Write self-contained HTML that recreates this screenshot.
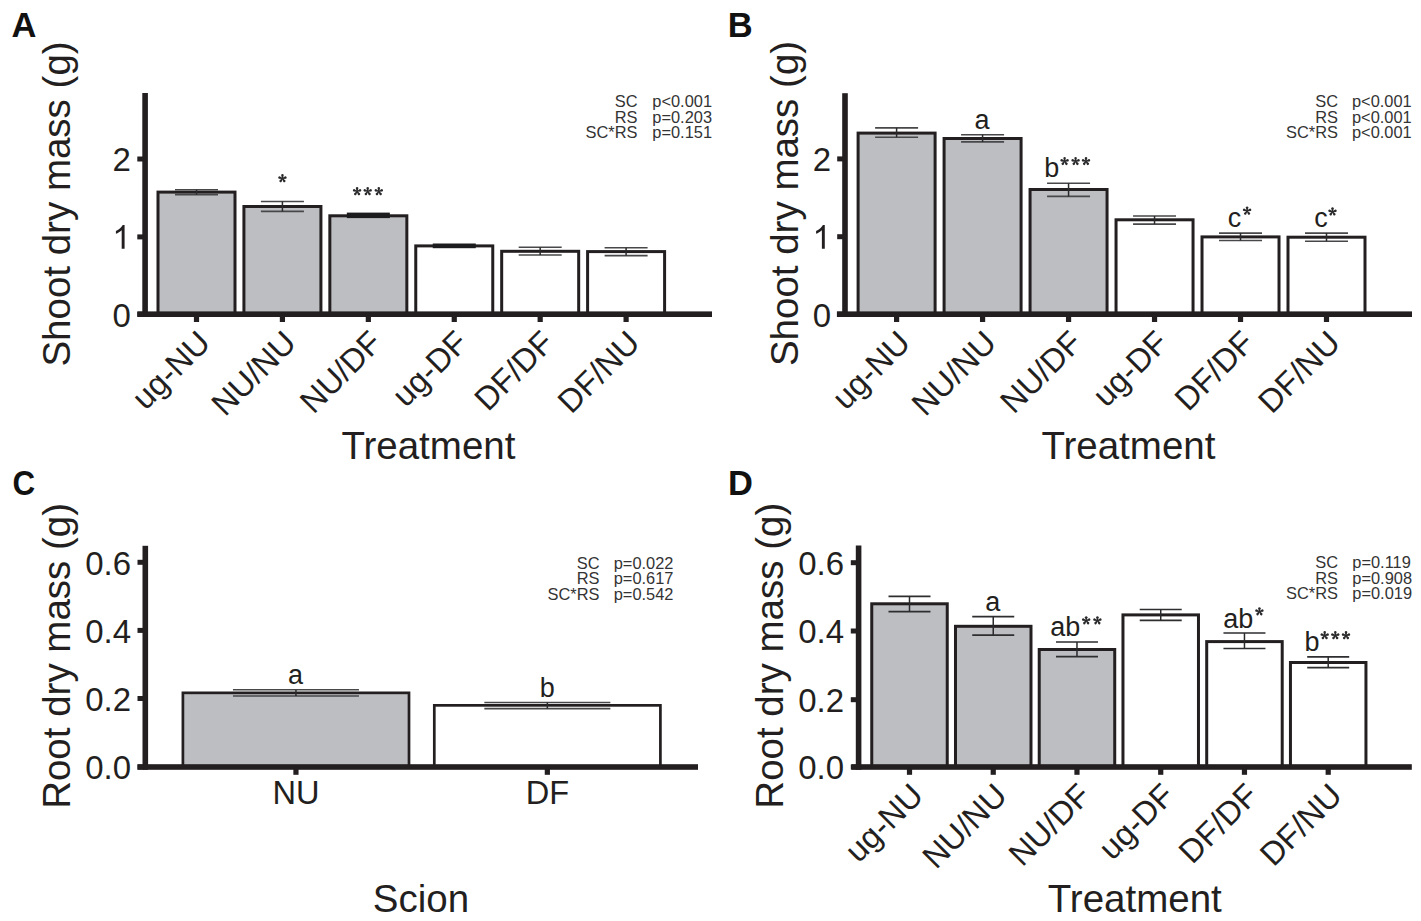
<!DOCTYPE html>
<html><head><meta charset="utf-8"><style>
html,body{margin:0;padding:0;background:#fff;width:1421px;height:921px;overflow:hidden}
svg{display:block}
text{font-family:"Liberation Sans", sans-serif}
</style></head><body>
<svg width="1421" height="921" viewBox="0 0 1421 921">
<defs><g id="ast" fill="#2a2a2c"><path id="arm" d="M-0.45 0L-1.3 -3.4A1.35 1.35 0 0 1 1.3 -3.4L0.45 0Z"/><use href="#arm" transform="rotate(72)"/><use href="#arm" transform="rotate(144)"/><use href="#arm" transform="rotate(216)"/><use href="#arm" transform="rotate(288)"/><circle r="0.9"/></g></defs>
<rect width="1421" height="921" fill="#fff"/>
<text transform="translate(11.5,36.8) scale(1,1)" x="0" y="0" font-size="34.5" font-weight="bold" fill="#111">A</text>
<rect x="158.00" y="192.10" width="77.00" height="122.10" fill="#bdbec1" stroke="#231f20" stroke-width="3.0"/>
<rect x="243.92" y="206.50" width="77.00" height="107.70" fill="#bdbec1" stroke="#231f20" stroke-width="3.0"/>
<rect x="329.84" y="215.80" width="77.00" height="98.40" fill="#bdbec1" stroke="#231f20" stroke-width="3.0"/>
<rect x="415.76" y="245.90" width="77.00" height="68.30" fill="#fff" stroke="#231f20" stroke-width="3.0"/>
<rect x="501.68" y="251.30" width="77.00" height="62.90" fill="#fff" stroke="#231f20" stroke-width="3.0"/>
<rect x="587.60" y="251.60" width="77.00" height="62.60" fill="#fff" stroke="#231f20" stroke-width="3.0"/>
<path d="M175.00 189.80H218.00M175.00 194.60H218.00" stroke="#48484a" stroke-width="1.6" fill="none"/>
<path d="M196.50 189.80V194.60" stroke="#2a2a2c" stroke-width="1.5" fill="none"/>
<path d="M260.92 201.50H303.92M260.92 211.40H303.92" stroke="#48484a" stroke-width="1.6" fill="none"/>
<path d="M282.42 201.50V211.40" stroke="#2a2a2c" stroke-width="1.5" fill="none"/>
<rect x="346.84" y="212.60" width="43.00" height="5.5" fill="#1c1c1e"/>
<rect x="432.76" y="243.50" width="43.00" height="4.7" fill="#1c1c1e"/>
<path d="M518.68 247.20H561.68M518.68 255.00H561.68" stroke="#48484a" stroke-width="1.6" fill="none"/>
<path d="M540.18 247.20V255.00" stroke="#2a2a2c" stroke-width="1.5" fill="none"/>
<path d="M604.60 247.70H647.60M604.60 255.60H647.60" stroke="#48484a" stroke-width="1.6" fill="none"/>
<path d="M626.10 247.70V255.60" stroke="#2a2a2c" stroke-width="1.5" fill="none"/>
<rect x="142.30" y="93.00" width="5.6" height="224.00" fill="#231f20"/>
<rect x="137.40" y="311.40" width="574.60" height="5.6" fill="#231f20"/>
<rect x="137.30" y="156.50" width="6" height="5" fill="#231f20"/>
<text x="130.8" y="171.30" font-size="33" text-anchor="end" fill="#231f20">2</text>
<rect x="137.30" y="234.40" width="6" height="5" fill="#231f20"/>
<path transform="translate(112.29,248.70) scale(0.016113,-0.016113)" d="M763 0H583V1147Q518 1085 413 1023Q308 961 224 930V1104Q375 1175 488 1276Q601 1377 648 1472H763Z" fill="#231f20"/>
<rect x="137.30" y="311.70" width="6" height="5" fill="#231f20"/>
<text x="130.8" y="326.50" font-size="33" text-anchor="end" fill="#231f20">0</text>
<rect x="193.90" y="314.20" width="5.2" height="7.80" fill="#231f20"/>
<rect x="279.82" y="314.20" width="5.2" height="7.80" fill="#231f20"/>
<rect x="365.74" y="314.20" width="5.2" height="7.80" fill="#231f20"/>
<rect x="451.66" y="314.20" width="5.2" height="7.80" fill="#231f20"/>
<rect x="537.58" y="314.20" width="5.2" height="7.80" fill="#231f20"/>
<rect x="623.50" y="314.20" width="5.2" height="7.80" fill="#231f20"/>
<use href="#ast" x="282.45" y="178.50"/>
<use href="#ast" x="357.10" y="191.40"/>
<use href="#ast" x="367.70" y="191.40"/>
<use href="#ast" x="378.80" y="191.40"/>
<text transform="translate(212.10,344.60) rotate(-45)" x="0" y="0" font-size="32.6" text-anchor="end" fill="#231f20">ug-NU</text>
<text transform="translate(298.02,344.60) rotate(-45)" x="0" y="0" font-size="32.6" text-anchor="end" fill="#231f20">NU/NU</text>
<text transform="translate(383.94,344.60) rotate(-45)" x="0" y="0" font-size="32.6" text-anchor="end" fill="#231f20">NU/DF</text>
<text transform="translate(469.86,344.60) rotate(-45)" x="0" y="0" font-size="32.6" text-anchor="end" fill="#231f20">ug-DF</text>
<text transform="translate(555.78,344.60) rotate(-45)" x="0" y="0" font-size="32.6" text-anchor="end" fill="#231f20">DF/DF</text>
<text transform="translate(641.70,344.60) rotate(-45)" x="0" y="0" font-size="32.6" text-anchor="end" fill="#231f20">DF/NU</text>
<text x="428.40" y="458.80" font-size="38.5" text-anchor="middle" fill="#231f20">Treatment</text>
<text transform="translate(69.50,204.00) rotate(-90)" x="0" y="0" font-size="38.5" text-anchor="middle" fill="#231f20">Shoot dry mass (g)</text>
<text x="637.50" y="107.10" font-size="16.4" text-anchor="end" fill="#333">SC</text>
<text x="652.30" y="107.10" font-size="16.4" fill="#333">p&lt;0.001</text>
<text x="637.50" y="122.60" font-size="16.4" text-anchor="end" fill="#333">RS</text>
<text x="652.30" y="122.60" font-size="16.4" fill="#333">p=0.203</text>
<text x="637.50" y="138.20" font-size="16.4" text-anchor="end" fill="#333">SC*RS</text>
<text x="652.30" y="138.20" font-size="16.4" fill="#333">p=0.151</text>
<text transform="translate(727.8,36.8) scale(1,1)" x="0" y="0" font-size="34.5" font-weight="bold" fill="#111">B</text>
<rect x="858.10" y="133.10" width="77.00" height="181.10" fill="#bdbec1" stroke="#231f20" stroke-width="3.0"/>
<rect x="944.08" y="138.50" width="77.00" height="175.70" fill="#bdbec1" stroke="#231f20" stroke-width="3.0"/>
<rect x="1030.06" y="189.50" width="77.00" height="124.70" fill="#bdbec1" stroke="#231f20" stroke-width="3.0"/>
<rect x="1116.04" y="219.80" width="77.00" height="94.40" fill="#fff" stroke="#231f20" stroke-width="3.0"/>
<rect x="1202.02" y="236.90" width="77.00" height="77.30" fill="#fff" stroke="#231f20" stroke-width="3.0"/>
<rect x="1288.00" y="237.20" width="77.00" height="77.00" fill="#fff" stroke="#231f20" stroke-width="3.0"/>
<path d="M875.10 127.90H918.10M875.10 137.20H918.10" stroke="#48484a" stroke-width="1.6" fill="none"/>
<path d="M896.60 127.90V137.20" stroke="#2a2a2c" stroke-width="1.5" fill="none"/>
<path d="M961.08 134.70H1004.08M961.08 141.90H1004.08" stroke="#48484a" stroke-width="1.6" fill="none"/>
<path d="M982.58 134.70V141.90" stroke="#2a2a2c" stroke-width="1.5" fill="none"/>
<path d="M1047.06 183.30H1090.06M1047.06 196.40H1090.06" stroke="#48484a" stroke-width="1.6" fill="none"/>
<path d="M1068.56 183.30V196.40" stroke="#2a2a2c" stroke-width="1.5" fill="none"/>
<path d="M1133.04 216.00H1176.04M1133.04 224.10H1176.04" stroke="#48484a" stroke-width="1.6" fill="none"/>
<path d="M1154.54 216.00V224.10" stroke="#2a2a2c" stroke-width="1.5" fill="none"/>
<path d="M1219.02 233.10H1262.02M1219.02 240.50H1262.02" stroke="#48484a" stroke-width="1.6" fill="none"/>
<path d="M1240.52 233.10V240.50" stroke="#2a2a2c" stroke-width="1.5" fill="none"/>
<path d="M1305.00 233.10H1348.00M1305.00 241.20H1348.00" stroke="#48484a" stroke-width="1.6" fill="none"/>
<path d="M1326.50 233.10V241.20" stroke="#2a2a2c" stroke-width="1.5" fill="none"/>
<rect x="842.20" y="93.20" width="5.6" height="223.80" fill="#231f20"/>
<rect x="836.90" y="311.40" width="575.10" height="5.6" fill="#231f20"/>
<rect x="837.20" y="156.40" width="6" height="5" fill="#231f20"/>
<text x="831.2" y="171.20" font-size="33" text-anchor="end" fill="#231f20">2</text>
<rect x="837.20" y="234.20" width="6" height="5" fill="#231f20"/>
<path transform="translate(812.49,248.70) scale(0.016113,-0.016113)" d="M763 0H583V1147Q518 1085 413 1023Q308 961 224 930V1104Q375 1175 488 1276Q601 1377 648 1472H763Z" fill="#231f20"/>
<rect x="837.20" y="311.70" width="6" height="5" fill="#231f20"/>
<text x="831.2" y="326.50" font-size="33" text-anchor="end" fill="#231f20">0</text>
<rect x="894.00" y="314.20" width="5.2" height="7.80" fill="#231f20"/>
<rect x="979.98" y="314.20" width="5.2" height="7.80" fill="#231f20"/>
<rect x="1065.96" y="314.20" width="5.2" height="7.80" fill="#231f20"/>
<rect x="1151.94" y="314.20" width="5.2" height="7.80" fill="#231f20"/>
<rect x="1237.92" y="314.20" width="5.2" height="7.80" fill="#231f20"/>
<rect x="1323.90" y="314.20" width="5.2" height="7.80" fill="#231f20"/>
<text x="982.10" y="128.80" font-size="27" text-anchor="middle" fill="#231f20">a</text>
<text x="1044.15" y="176.90" font-size="27" fill="#231f20">b</text>
<use href="#ast" x="1064.60" y="161.30"/>
<use href="#ast" x="1075.60" y="161.30"/>
<use href="#ast" x="1086.00" y="161.30"/>
<text x="1234.55" y="226.50" font-size="27" text-anchor="middle" fill="#231f20">c</text>
<use href="#ast" x="1247.10" y="210.90"/>
<text x="1320.95" y="227.30" font-size="27" text-anchor="middle" fill="#231f20">c</text>
<use href="#ast" x="1332.50" y="211.70"/>
<text transform="translate(912.20,344.60) rotate(-45)" x="0" y="0" font-size="32.6" text-anchor="end" fill="#231f20">ug-NU</text>
<text transform="translate(998.18,344.60) rotate(-45)" x="0" y="0" font-size="32.6" text-anchor="end" fill="#231f20">NU/NU</text>
<text transform="translate(1084.16,344.60) rotate(-45)" x="0" y="0" font-size="32.6" text-anchor="end" fill="#231f20">NU/DF</text>
<text transform="translate(1170.14,344.60) rotate(-45)" x="0" y="0" font-size="32.6" text-anchor="end" fill="#231f20">ug-DF</text>
<text transform="translate(1256.12,344.60) rotate(-45)" x="0" y="0" font-size="32.6" text-anchor="end" fill="#231f20">DF/DF</text>
<text transform="translate(1342.10,344.60) rotate(-45)" x="0" y="0" font-size="32.6" text-anchor="end" fill="#231f20">DF/NU</text>
<text x="1128.40" y="458.50" font-size="38.5" text-anchor="middle" fill="#231f20">Treatment</text>
<text transform="translate(797.50,203.50) rotate(-90)" x="0" y="0" font-size="38.5" text-anchor="middle" fill="#231f20">Shoot dry mass (g)</text>
<text x="1338.00" y="107.40" font-size="16.4" text-anchor="end" fill="#333">SC</text>
<text x="1352.00" y="107.40" font-size="16.4" fill="#333">p&lt;0.001</text>
<text x="1338.00" y="122.60" font-size="16.4" text-anchor="end" fill="#333">RS</text>
<text x="1352.00" y="122.60" font-size="16.4" fill="#333">p&lt;0.001</text>
<text x="1338.00" y="137.90" font-size="16.4" text-anchor="end" fill="#333">SC*RS</text>
<text x="1352.00" y="137.90" font-size="16.4" fill="#333">p&lt;0.001</text>
<text transform="translate(12.6,494.7) scale(0.91,1)" x="0" y="0" font-size="34.5" font-weight="bold" fill="#111">C</text>
<rect x="182.90" y="692.85" width="226.10" height="74.15" fill="#bdbec1" stroke="#231f20" stroke-width="2.7"/>
<rect x="434.30" y="705.35" width="226.10" height="61.65" fill="#fff" stroke="#231f20" stroke-width="2.7"/>
<path d="M232.95 689.80H358.95M232.95 696.00H358.95" stroke="#48484a" stroke-width="1.6" fill="none"/>
<path d="M295.95 689.80V696.00" stroke="#2a2a2c" stroke-width="1.5" fill="none"/>
<path d="M484.35 702.50H610.35M484.35 708.60H610.35" stroke="#48484a" stroke-width="1.6" fill="none"/>
<path d="M547.35 702.50V708.60" stroke="#2a2a2c" stroke-width="1.5" fill="none"/>
<rect x="142.50" y="545.80" width="5.6" height="224.00" fill="#231f20"/>
<rect x="137.50" y="764.20" width="560.50" height="5.6" fill="#231f20"/>
<rect x="137.50" y="559.80" width="6" height="5" fill="#231f20"/>
<text x="131" y="574.60" font-size="33" text-anchor="end" fill="#231f20">0.6</text>
<rect x="137.50" y="627.90" width="6" height="5" fill="#231f20"/>
<text x="131" y="642.70" font-size="33" text-anchor="end" fill="#231f20">0.4</text>
<rect x="137.50" y="696.00" width="6" height="5" fill="#231f20"/>
<text x="131" y="710.80" font-size="33" text-anchor="end" fill="#231f20">0.2</text>
<rect x="137.50" y="764.50" width="6" height="5" fill="#231f20"/>
<text x="131" y="779.30" font-size="33" text-anchor="end" fill="#231f20">0.0</text>
<rect x="293.35" y="767.00" width="5.2" height="7.80" fill="#231f20"/>
<rect x="544.75" y="767.00" width="5.2" height="7.80" fill="#231f20"/>
<text x="295.60" y="684.20" font-size="27" text-anchor="middle" fill="#231f20">a</text>
<text x="547.20" y="696.60" font-size="27" text-anchor="middle" fill="#231f20">b</text>
<text x="295.95" y="803.90" font-size="32.6" text-anchor="middle" fill="#231f20">NU</text>
<text x="547.35" y="803.90" font-size="32.6" text-anchor="middle" fill="#231f20">DF</text>
<text x="421.00" y="911.80" font-size="38.5" text-anchor="middle" fill="#231f20">Scion</text>
<text transform="translate(70.00,655.90) rotate(-90)" x="0" y="0" font-size="38.5" text-anchor="middle" fill="#231f20">Root dry mass (g)</text>
<text x="599.50" y="568.90" font-size="16.4" text-anchor="end" fill="#333">SC</text>
<text x="613.70" y="568.90" font-size="16.4" fill="#333">p=0.022</text>
<text x="599.50" y="584.10" font-size="16.4" text-anchor="end" fill="#333">RS</text>
<text x="613.70" y="584.10" font-size="16.4" fill="#333">p=0.617</text>
<text x="599.50" y="599.60" font-size="16.4" text-anchor="end" fill="#333">SC*RS</text>
<text x="613.70" y="599.60" font-size="16.4" fill="#333">p=0.542</text>
<text transform="translate(728,494.6) scale(1,1)" x="0" y="0" font-size="34.5" font-weight="bold" fill="#111">D</text>
<rect x="871.75" y="603.80" width="75.50" height="163.20" fill="#bdbec1" stroke="#231f20" stroke-width="3.0"/>
<rect x="955.49" y="626.30" width="75.50" height="140.70" fill="#bdbec1" stroke="#231f20" stroke-width="3.0"/>
<rect x="1039.23" y="649.50" width="75.50" height="117.50" fill="#bdbec1" stroke="#231f20" stroke-width="3.0"/>
<rect x="1122.97" y="614.90" width="75.50" height="152.10" fill="#fff" stroke="#231f20" stroke-width="3.0"/>
<rect x="1206.71" y="641.60" width="75.50" height="125.40" fill="#fff" stroke="#231f20" stroke-width="3.0"/>
<rect x="1290.45" y="662.50" width="75.50" height="104.50" fill="#fff" stroke="#231f20" stroke-width="3.0"/>
<path d="M888.50 596.30H930.50M888.50 611.60H930.50" stroke="#2e2e30" stroke-width="1.7" fill="none"/>
<path d="M909.50 596.30V611.60" stroke="#2a2a2c" stroke-width="1.5" fill="none"/>
<path d="M972.24 616.70H1014.24M972.24 635.20H1014.24" stroke="#2e2e30" stroke-width="1.7" fill="none"/>
<path d="M993.24 616.70V635.20" stroke="#2a2a2c" stroke-width="1.5" fill="none"/>
<path d="M1055.98 642.00H1097.98M1055.98 656.60H1097.98" stroke="#2e2e30" stroke-width="1.7" fill="none"/>
<path d="M1076.98 642.00V656.60" stroke="#2a2a2c" stroke-width="1.5" fill="none"/>
<path d="M1139.72 609.50H1181.72M1139.72 620.40H1181.72" stroke="#2e2e30" stroke-width="1.7" fill="none"/>
<path d="M1160.72 609.50V620.40" stroke="#2a2a2c" stroke-width="1.5" fill="none"/>
<path d="M1223.46 633.00H1265.46M1223.46 648.50H1265.46" stroke="#2e2e30" stroke-width="1.7" fill="none"/>
<path d="M1244.46 633.00V648.50" stroke="#2a2a2c" stroke-width="1.5" fill="none"/>
<path d="M1307.20 656.80H1349.20M1307.20 667.70H1349.20" stroke="#2e2e30" stroke-width="1.7" fill="none"/>
<path d="M1328.20 656.80V667.70" stroke="#2a2a2c" stroke-width="1.5" fill="none"/>
<rect x="855.80" y="545.50" width="5.6" height="224.30" fill="#231f20"/>
<rect x="851.40" y="764.20" width="560.40" height="5.6" fill="#231f20"/>
<rect x="850.80" y="560.20" width="6" height="5" fill="#231f20"/>
<text x="844" y="575.00" font-size="33" text-anchor="end" fill="#231f20">0.6</text>
<rect x="850.80" y="628.50" width="6" height="5" fill="#231f20"/>
<text x="844" y="643.30" font-size="33" text-anchor="end" fill="#231f20">0.4</text>
<rect x="850.80" y="697.20" width="6" height="5" fill="#231f20"/>
<text x="844" y="712.00" font-size="33" text-anchor="end" fill="#231f20">0.2</text>
<rect x="850.80" y="764.50" width="6" height="5" fill="#231f20"/>
<text x="844" y="779.30" font-size="33" text-anchor="end" fill="#231f20">0.0</text>
<rect x="906.90" y="767.00" width="5.2" height="7.80" fill="#231f20"/>
<rect x="990.64" y="767.00" width="5.2" height="7.80" fill="#231f20"/>
<rect x="1074.38" y="767.00" width="5.2" height="7.80" fill="#231f20"/>
<rect x="1158.12" y="767.00" width="5.2" height="7.80" fill="#231f20"/>
<rect x="1241.86" y="767.00" width="5.2" height="7.80" fill="#231f20"/>
<rect x="1325.60" y="767.00" width="5.2" height="7.80" fill="#231f20"/>
<text x="992.80" y="610.70" font-size="27" text-anchor="middle" fill="#231f20">a</text>
<text x="1050.20" y="635.60" font-size="27" fill="#231f20">ab</text>
<use href="#ast" x="1086.20" y="620.60"/>
<use href="#ast" x="1097.40" y="620.60"/>
<text x="1223.20" y="627.50" font-size="27" fill="#231f20">ab</text>
<use href="#ast" x="1259.40" y="611.60"/>
<text x="1304.55" y="650.80" font-size="27" fill="#231f20">b</text>
<use href="#ast" x="1324.70" y="635.50"/>
<use href="#ast" x="1335.30" y="635.50"/>
<use href="#ast" x="1346.00" y="635.50"/>
<text transform="translate(925.10,797.40) rotate(-45)" x="0" y="0" font-size="32.6" text-anchor="end" fill="#231f20">ug-NU</text>
<text transform="translate(1008.84,797.40) rotate(-45)" x="0" y="0" font-size="32.6" text-anchor="end" fill="#231f20">NU/NU</text>
<text transform="translate(1092.58,797.40) rotate(-45)" x="0" y="0" font-size="32.6" text-anchor="end" fill="#231f20">NU/DF</text>
<text transform="translate(1176.32,797.40) rotate(-45)" x="0" y="0" font-size="32.6" text-anchor="end" fill="#231f20">ug-DF</text>
<text transform="translate(1260.06,797.40) rotate(-45)" x="0" y="0" font-size="32.6" text-anchor="end" fill="#231f20">DF/DF</text>
<text transform="translate(1343.80,797.40) rotate(-45)" x="0" y="0" font-size="32.6" text-anchor="end" fill="#231f20">DF/NU</text>
<text x="1134.80" y="911.80" font-size="38.5" text-anchor="middle" fill="#231f20">Treatment</text>
<text transform="translate(783.00,655.70) rotate(-90)" x="0" y="0" font-size="38.5" text-anchor="middle" fill="#231f20">Root dry mass (g)</text>
<text x="1338.00" y="568.20" font-size="16.4" text-anchor="end" fill="#333">SC</text>
<text x="1352.30" y="568.20" font-size="16.4" fill="#333">p=0.119</text>
<text x="1338.00" y="583.90" font-size="16.4" text-anchor="end" fill="#333">RS</text>
<text x="1352.30" y="583.90" font-size="16.4" fill="#333">p=0.908</text>
<text x="1338.00" y="599.40" font-size="16.4" text-anchor="end" fill="#333">SC*RS</text>
<text x="1352.30" y="599.40" font-size="16.4" fill="#333">p=0.019</text>
</svg>
</body></html>
